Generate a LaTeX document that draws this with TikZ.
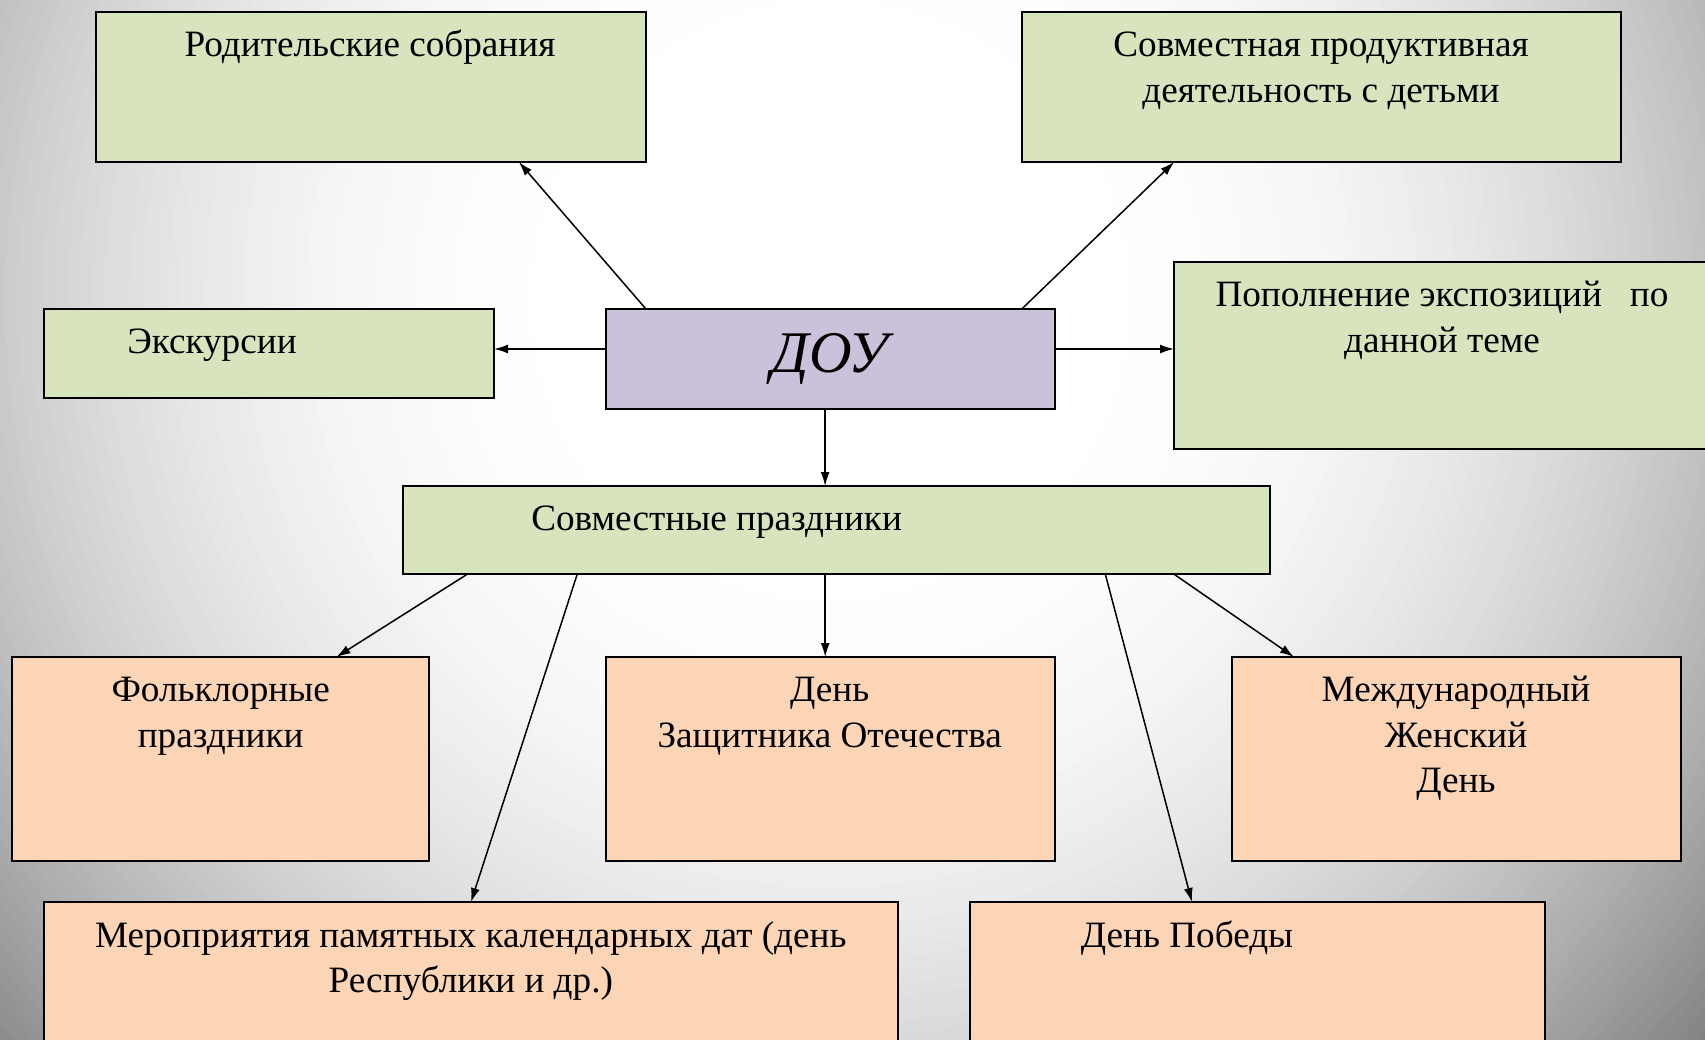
\documentclass[tikz,border=0pt]{standalone}
\usepackage{fontspec}
\setmainfont{Liberation Serif}
\usetikzlibrary{arrows.meta,calc}

\definecolor{boxgreen}{HTML}{D7E4BD}
\definecolor{boxlilac}{HTML}{CCC1DA}
\definecolor{boxpeach}{HTML}{FBD5B5}
\definecolor{bgedge}{gray}{0.45}

\tikzset{
	box/.style={draw=black, line width=1.8pt, anchor=north west, inner sep=0pt, outer sep=0pt},
	greenbox/.style={box, fill=boxgreen},
	lilacbox/.style={box, fill=boxlilac},
	peachbox/.style={box, fill=boxpeach},
	txt/.style={anchor=base, inner sep=0pt, align=center, font=\fontsize{37.2}{45.6}\selectfont},
	link/.style={-{Latex[length=14pt,width=9pt]}, line width=1.5pt}
}

\begin{document}
\begin{tikzpicture}[x=1pt, y=-1pt]

	\useasboundingbox (0,0) rectangle (1705,1039);

	%% background glow, rings from the edge inwards
	\begin{scope}
		\clip (0,0) rectangle (1705,1039);
		\fill[white] (0,0) rectangle (1705,1039);
		\foreach \i in {0,...,80} {
			\pgfmathsetmacro\rad{1250-\i*12.5}
			\pgfmathsetmacro\pct{min(100,109*(\rad/1000-0.25)^2)}
			\fill[bgedge!\pct!white] (830,300) circle [radius=\rad];
		}
	\end{scope}

	%% boxes
	\node[greenbox, minimum width=550pt, minimum height=150pt] (rod) at (96,12) {};
	\node[greenbox, minimum width=599pt, minimum height=150pt] (sovm) at (1022,12) {};
	\node[greenbox, minimum width=450pt, minimum height=89pt] (ekskurs) at (44,309) {};
	\node[lilacbox, minimum width=449pt, minimum height=100pt] (dou) at (606,309) {};
	\node[greenbox, minimum width=560pt, minimum height=187pt] (popoln) at (1174,262) {};
	\node[greenbox, minimum width=867pt, minimum height=88pt] (prazd) at (403,486) {};
	\node[peachbox, minimum width=417pt, minimum height=204pt] (folk) at (12,657) {};
	\node[peachbox, minimum width=449pt, minimum height=204pt] (zashch) at (606,657) {};
	\node[peachbox, minimum width=449pt, minimum height=204pt] (mezh) at (1232,657) {};
	\node[peachbox, minimum width=854pt, minimum height=180pt] (merop) at (44,902) {};
	\node[peachbox, minimum width=575pt, minimum height=180pt] (pobeda) at (970,902) {};

	%% texts (base = last line)
	\node[txt] (rodtxt) at (370,56.7) {Родительские собрания};
	\node[txt] (sovmtxt) at (1321,102.3) {Совместная продуктивная\\деятельность с детьми};
	\node[txt] (ekskurstxt) at (212,353.4) {Экскурсии};
	\node[txt, font=\fontsize{59}{70}\selectfont\itshape] (doutxt) at (830,372.7) {ДОУ};
	\node[txt] (popolntxt) at (1442,352.3) {Пополнение экспозиций \ \ по\\данной теме};
	\node[txt] (prazdtxt) at (716.6,530.7) {Совместные праздники};
	\node[txt] (folktxt) at (220.7,747) {Фольклорные\\праздники};
	\node[txt] (zashchtxt) at (829.7,747) {День\\Защитника Отечества};
	\node[txt] (mezhtxt) at (1456,792.6) {Международный\\Женский\\День};
	\node[txt] (meroptxt) at (470.8,992.6) {Мероприятия памятных календарных дат (день\\Республики и др.)};
	\node[txt] (pobedatxt) at (1187,947) {День Победы};

	%% arrows from ДОУ
	\draw[link] ($(dou.north west)!0.089!(dou.north east)$) -- ($(rod.south west)!0.769!(rod.south east)$);
	\draw[link] ($(dou.north west)!0.926!(dou.north east)$) -- ($(sovm.south west)!0.254!(sovm.south east)$);
	\coordinate (douw) at ($(dou.north west)!0.4!(dou.south west)$);
	\coordinate (doue) at ($(dou.north east)!0.4!(dou.south east)$);
	\draw[link] (douw) -- (ekskurs.east |- douw);
	\draw[link] (doue) -- (popoln.west |- doue);
	\coordinate (dous) at ($(dou.south west)!0.488!(dou.south east)$);
	\draw[link] (dous) -- (dous |- prazd.north);

	%% arrows from Совместные праздники
	\draw[link] ($(prazd.south west)!0.0745!(prazd.south east)$) -- ($(folk.north west)!0.778!(folk.north east)$);
	\draw[link] ($(prazd.south west)!0.201!(prazd.south east)$) -- (merop.north);
	\coordinate (prazds) at ($(prazd.south west)!0.487!(prazd.south east)$);
	\draw[link] (prazds) -- (prazds |- zashch.north);
	\draw[link] ($(prazd.south west)!0.81!(prazd.south east)$) -- ($(pobeda.north west)!0.386!(pobeda.north east)$);
	\draw[link] ($(prazd.south west)!0.889!(prazd.south east)$) -- ($(mezh.north west)!0.138!(mezh.north east)$);

\end{tikzpicture}
\end{document}
